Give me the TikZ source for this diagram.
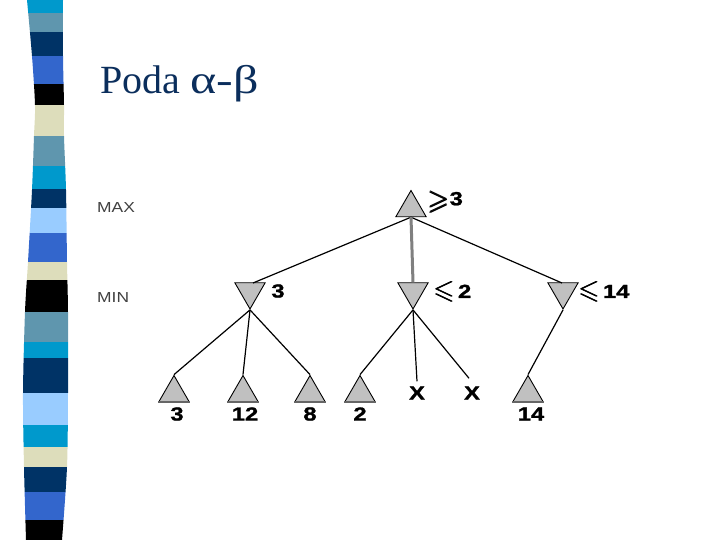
\documentclass[tikz,border=0pt]{standalone}
\usepackage{amsmath,amssymb}
\usepackage{fontspec}
\setmainfont{Liberation Serif}
\newfontfamily\lsans{Liberation Sans}
\newfontfamily\lsansbold{Liberation Sans Bold}[FakeBold=1.2]
\usetikzlibrary{shapes.geometric}
\definecolor{scyan}{HTML}{0099CC}
\definecolor{ssteel}{HTML}{5F96AE}
\definecolor{snavy}{HTML}{003366}
\definecolor{sroyal}{HTML}{3366CC}
\definecolor{sbeige}{HTML}{DDDDBB}
\definecolor{slight}{HTML}{99CCFF}
\definecolor{titlec}{HTML}{0B2E5C}
\definecolor{trifill}{HTML}{C0C0C0}
\newcommand{\widen}[1]{\scalebox{1.25}[1]{#1}}
\newcommand{\geqs}{\scalebox{1.45}{$\pmb{\geqslant}$}}
\newcommand{\leqs}{\scalebox{1.4}{$\pmb{\leqslant}$}}
\tikzset{
  tri/.style={regular polygon, regular polygon sides=3, minimum size=35pt, inner sep=0pt,
    draw=black, line width=0.9pt, fill=trifill},
  mintri/.style={tri, shape border rotate=180},
  num/.style={font=\lsansbold\fontsize{19}{19}\selectfont, inner sep=1pt},
  edge/.style={line width=1.2pt, black},
  thickedge/.style={line width=3pt, color=black!50},
  lvl/.style={font=\lsans\fontsize{14.5}{14.5}\selectfont, text=black!75, anchor=base west, inner sep=0pt},
}
\begin{document}
\begin{tikzpicture}[x=1pt,y=-1pt]
\useasboundingbox (0,0) rectangle (720,540);
% side stripe
\begin{scope}
\clip plot[smooth] coordinates {(27,0) (32,56) (35,105) (34,136) (32,190) (28,262) (25,312) (23,393) (24,467) (26,540)}
  -- plot[smooth] coordinates {(62,540) (67,467) (68,393) (68,312) (67,262) (66,190) (64,136) (64,105) (63,56) (63,0)} -- cycle;
\foreach \ya/\yb/\c in {0/13/scyan, 13/32/ssteel, 32/56/snavy, 56/84/sroyal, 84/105/black, 105/136/sbeige,
  136/166/ssteel, 166/189/scyan, 189/208/snavy, 208/233/slight, 233/262/sroyal, 262/280/sbeige,
  280/312/black, 312/342/ssteel, 342/358/scyan, 358/393/snavy, 393/425/slight, 425/447/scyan,
  447/467/sbeige, 467/492/snavy, 492/520/sroyal, 520/540/black}
  \fill[\c] (15,\ya) rectangle (80,\yb);
\end{scope}
% title
\node[anchor=base west, inner sep=0pt, text=titlec, font=\fontsize{40}{40}\selectfont] (title) at (100,94) {Poda \scalebox{1.25}[1]{α-β}};
% level labels
\node[lvl] (maxl) at (97,212) {\scalebox{1.2}[1]{MAX}};
\node[lvl] (minl) at (97,302) {\scalebox{1.2}[1]{MIN}};
\coordinate (m1t) at (253,283);
\coordinate (m3t) at (562,283);
\node[tri] (root) at (411,208) {};
\node[mintri] (m1) at (250,291.5) {};
\node[mintri] (m2) at (413,291.5) {};
\node[mintri] (m3) at (563,291.5) {};
\node[tri] (l1) at (174,393) {};
\node[tri] (l2) at (243,393) {};
\node[tri] (l3) at (310,393) {};
\node[tri] (l4) at (360,393) {};
\node[tri] (l7) at (528,393) {};
\node[num, inner sep=0pt] (x1) at (417,393) {\widen{X}};
\node[num, inner sep=0pt] (x2) at (472,393) {\widen{X}};
% base lines of leaves
\foreach \n in {l1,l2,l3,l4,l7}
  \draw[line width=2pt, black!60] (\n.corner 2) -- (\n.corner 3);
% connectors
\draw[edge] (root.south) -- (m1t);
\draw[edge] (root.south) -- (m3t);
\draw[thickedge] (root.south) -- (m2.north);
\draw[edge] (m1.corner 1) -- (l1.corner 1);
\draw[edge] (m1.corner 1) -- (l2.corner 1);
\draw[edge] (m1.corner 1) -- (l3.corner 1);
\draw[edge] (m2.corner 1) -- (l4.corner 1);
\draw[edge] (m2.corner 1) -- ([yshift=5pt]x1.north);
\draw[edge] (m2.corner 1) -- ([xshift=-3pt,yshift=8pt]x2.north);
\draw[edge] (m3.corner 1) -- (l7.corner 1);
% value labels
\node[num, anchor=west] (rv) at (427,202) {\geqs\raisebox{4pt}{\widen{3}}};
\node[num] (m1v) at (278,291) {\widen{3}};
\node[num, anchor=west] (m2v) at (433,292) {\leqs\,\raisebox{1pt}{\widen{2}}};
\node[num, anchor=west] (m3v) at (578,292) {\leqs\,\raisebox{1pt}{\widen{14}}};
\node[num] (l1v) at (177,414) {\widen{3}};
\node[num] (l2v) at (245,414) {\widen{12}};
\node[num] (l3v) at (310,414) {\widen{8}};
\node[num] (l4v) at (360,414) {\widen{2}};
\node[num] (l7v) at (531,414) {\widen{14}};
\end{tikzpicture}
\end{document}
